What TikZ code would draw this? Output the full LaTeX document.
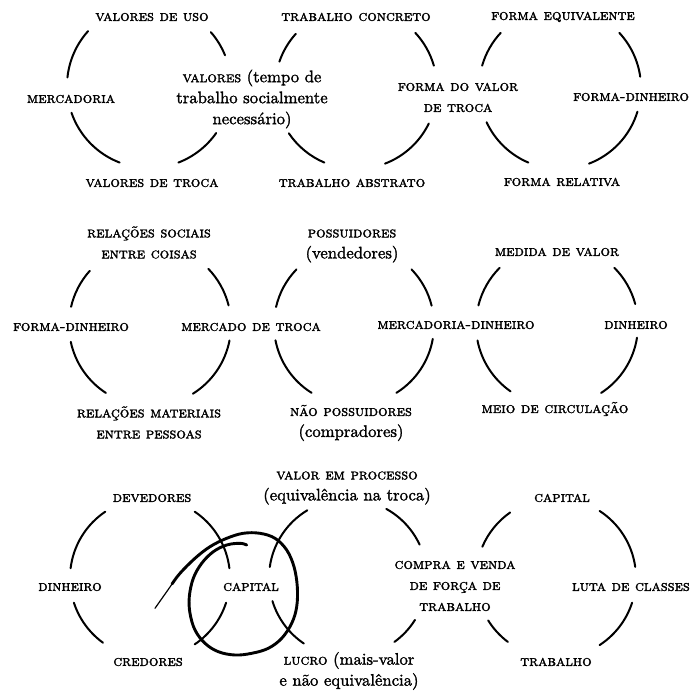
\documentclass[tikz,border=0pt]{standalone}
\usepackage{fontspec}
\newfontfamily\lowf{lmroman10-regular.otf}[FakeBold=1.6]
\newfontfamily\capf{lmromancaps10-regular.otf}[FakeBold=1.9]
\newcommand{\SC}[1]{{\capf\fontsize{15}{21}\selectfont #1}}
\begin{document}
\begin{tikzpicture}[x=1pt,y=1pt,
  arcline/.style={line width=2pt, line cap=round},
  lab/.style={font=\lowf\fontsize{16.7}{21}\selectfont, align=center, inner sep=0pt},
  handline/.style={line width=2.9pt, line cap=round, line join=round}]
\useasboundingbox (0,0) rectangle (691,-691);
\newcommand{\arcc}[4]{\draw[arcline] ([shift={(#2:#4)}]#1) arc[start angle=#2, end angle=#3, radius=#4];}
% centres
\coordinate (C1) at (149,-86);
\coordinate (C2) at (356,-88);
\coordinate (C3) at (560,-88);
\coordinate (C4) at (150,-325);
\coordinate (C5) at (354,-325);
\coordinate (C6) at (557,-325);
\coordinate (C7) at (150,-578);
\coordinate (C8) at (348,-578);
\coordinate (C9) at (556,-578);
% row 1 arcs
\arcc{C1}{138}{174}{82} \arcc{C1}{199}{249}{82} \arcc{C1}{22}{41}{82} \arcc{C1}{-69}{-35}{82}
\arcc{C2}{138}{161}{81} \arcc{C2}{214}{247}{81} \arcc{C2}{16}{43}{81} \arcc{C2}{-69}{-26}{81}
\arcc{C3}{137}{164}{81} \arcc{C3}{205}{247}{81} \arcc{C3}{8}{43}{81} \arcc{C3}{-69}{-17}{81}
% row 2 arcs
\arcc{C4}{138}{167}{81} \arcc{C4}{192}{237}{81} \arcc{C4}{14}{44}{81} \arcc{C4}{-58}{-11}{81}
\arcc{C5}{136}{167}{80} \arcc{C5}{191}{238}{80} \arcc{C5}{14}{44}{80} \arcc{C5}{-58}{-10}{80}
\arcc{C6}{135}{166}{81} \arcc{C6}{191}{235}{81} \arcc{C6}{15}{45}{81} \arcc{C6}{-57}{-9}{81}
% row 3 arcs
\arcc{C7}{124}{173}{80} \arcc{C7}{198}{234}{80} \arcc{C7}{7}{56}{80} \arcc{C7}{-56}{-18}{80}
\arcc{C8}{121}{172}{79} \arcc{C8}{197}{236}{79} \arcc{C8}{25}{61}{79} \arcc{C8}{-54}{-32}{79}
\arcc{C9}{125}{157}{80} \arcc{C9}{212}{233}{80} \arcc{C9}{8}{57}{80} \arcc{C9}{-57}{-18}{80}
% row 1 labels
\node[lab] (n1) at (152,-17) {\SC{valores de uso}};
\node[lab] (n2) at (356,-17) {\SC{trabalho concreto}};
\node[lab] (n3) at (563,-17) {\SC{forma equivalente}};
\node[lab] (n4) at (71,-99) {\SC{mercadoria}};
\node[lab] (n5) at (252,-99) {\SC{valores} (tempo de\\trabalho socialmente\\necessário)};
\node[lab] (n6) at (458,-97.5) {\SC{forma do valor}\\\SC{de troca}};
\node[lab,anchor=west] (n7) at (573,-97) {\SC{forma-dinheiro}};
\node[lab] (n8) at (152,-183) {\SC{valores de troca}};
\node[lab] (n9) at (352,-183) {\SC{trabalho abstrato}};
\node[lab] (n10) at (562,-182) {\SC{forma relativa}};
% row 2 labels
\node[lab] (m1) at (149,-242.5) {\SC{relações sociais}\\\SC{entre coisas}};
\node[lab] (m2) at (352,-246) {\SC{possuidores}\\(vendedores)};
\node[lab] (m3) at (557,-252) {\SC{medida de valor}};
\node[lab] (m4) at (71,-327) {\SC{forma-dinheiro}};
\node[lab] (m5) at (251,-327) {\SC{mercado de troca}};
\node[lab] (m6) at (456,-325) {\SC{mercadoria-dinheiro}};
\node[lab] (m7) at (636,-325) {\SC{dinheiro}};
\node[lab] (m8) at (149,-422.5) {\SC{relações materiais}\\\SC{entre pessoas}};
\node[lab] (m9) at (351,-423) {\SC{não possuidores}\\(compradores)};
\node[lab] (m10) at (555,-409) {\SC{meio de circulação}};
% row 3 labels
\node[lab] (k1) at (347,-488) {\SC{valor em processo}\\(equivalência na troca)};
\node[lab] (k2) at (152,-498) {\SC{devedores}};
\node[lab] (k3) at (562,-498) {\SC{capital}};
\node[lab] (k4) at (70,-587) {\SC{dinheiro}};
\node[lab] (k5) at (251,-587) {\SC{capital}};
\node[lab] (k6) at (455,-586) {\SC{compra e venda}\\\SC{de força de}\\\SC{trabalho}};
\node[lab,anchor=east] (k7) at (690,-587) {\SC{luta de classes}};
\node[lab] (k8) at (148,-662) {\SC{credores}};
\node[lab] (k9) at (349,-671) {\SC{lucro} (mais-valor\\e não equivalência)};
\node[lab] (k10) at (556,-662) {\SC{trabalho}};
% hand-drawn loop
\draw[line width=1.2pt, line cap=round] plot[smooth, tension=0.6] coordinates {(155,-608.3) (166.7,-591.7) (180,-573.3) (195,-558.3)};
\draw[handline] plot[smooth, tension=0.6] coordinates {(172,-584) (180,-573.3) (195,-558.3) (210,-546.7) (226.7,-538.3) (243.3,-533.3) (260,-533.3) (275,-538.3) (286.7,-550) (294,-566.7) (297.3,-586.7) (296.7,-606.7) (291.7,-623.3) (281.7,-638.3) (268.3,-648.3) (251.7,-653.3) (235,-655) (218.3,-651.7) (205,-643.3) (195,-630) (190,-613.3) (189.3,-596.7) (193.3,-578.3) (201.7,-563.3) (213.3,-551.7) (226.7,-545) (240,-543.3) (246.7,-545)};
\end{tikzpicture}
\end{document}
